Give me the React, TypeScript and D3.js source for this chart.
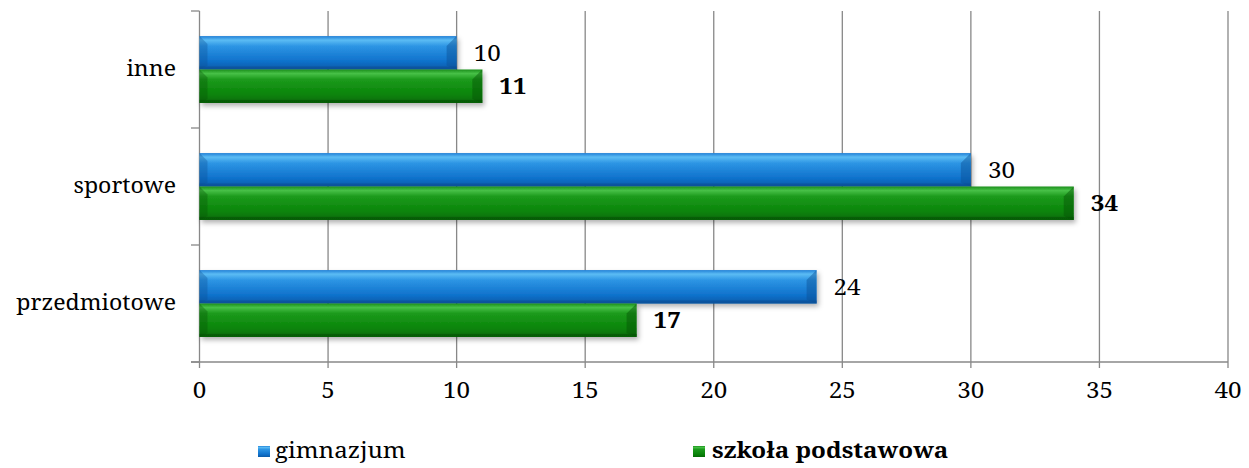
import React from "react";
import * as d3 from "d3";

const categories = ["inne", "sportowe", "przedmiotowe"];
const seriesNames = ["gimnazjum", "szkoła podstawowa"];
const gimnazjum = [10, 30, 24];
const szkolaPodstawowa = [11, 34, 17];
const xTicks = [0, 5, 10, 15, 20, 25, 30, 35, 40];

const W = 1249;
const H = 468;
const FONT = "'Noto Serif', serif";
const SX = 1.1;

function T(props: {
  x: number;
  y: number;
  anchor?: string;
  size?: number;
  bold?: boolean;
  sx?: number;
  dy?: string;
  children: React.ReactNode;
}) {
  const { x, y, anchor = "start", size = 22, bold = false, sx = SX, dy, children } = props;
  return (
    <text
      transform={`translate(${x},${y}) scale(${sx},1)`}
      textAnchor={anchor}
      dy={dy}
      fontFamily={FONT}
      fontSize={size}
      fontWeight={bold ? "bold" : "normal"}
      fill="#000"
    >
      {children}
    </text>
  );
}

export default function App() {
  const x = d3.scaleLinear().domain([0, 40]).range([199.5, 1228]);
  const y = d3.scaleBand<string>().domain(categories).range([11, 362]);
  const inner = d3
    .scaleBand<string>()
    .domain(seriesNames)
    .range([0, y.bandwidth()])
    .paddingOuter(0.75)
    .paddingInner(0);

  const series = [
    { name: seriesNames[0], values: gimnazjum, grad: "gBlue", dark: "#0b4f95", bold: false },
    { name: seriesNames[1], values: szkolaPodstawowa, grad: "gGreen", dark: "#055205", bold: true },
  ];

  const bevel = 10;

  return (
    <div style={{ position: "absolute", left: 0, top: 0 }}>
      <svg width={W} height={H} style={{ display: "block" }}>
        <defs>
          <linearGradient id="gBlue" x1="0" y1="0" x2="0" y2="1">
            <stop offset="0" stopColor="#1f7fd6" />
            <stop offset="0.12" stopColor="#5cbcf4" />
            <stop offset="0.3" stopColor="#2d95e4" />
            <stop offset="0.75" stopColor="#0f72cc" />
            <stop offset="1" stopColor="#0b5aa8" />
          </linearGradient>
          <linearGradient id="gGreen" x1="0" y1="0" x2="0" y2="1">
            <stop offset="0" stopColor="#1a8f1a" />
            <stop offset="0.12" stopColor="#46c046" />
            <stop offset="0.3" stopColor="#1c9a1c" />
            <stop offset="0.75" stopColor="#0a840a" />
            <stop offset="1" stopColor="#066a06" />
          </linearGradient>
          <filter id="shadow" x="-5%" y="-20%" width="110%" height="160%">
            <feDropShadow dx="2" dy="3" stdDeviation="2.5" floodColor="#000" floodOpacity="0.3" />
          </filter>
        </defs>

        {/* gridlines */}
        {xTicks.slice(1).map((t) => (
          <line key={"g" + t} x1={x(t)} x2={x(t)} y1={11} y2={368} stroke="#888" strokeWidth={1.3} />
        ))}
        {/* y axis */}
        <line x1={x(0)} x2={x(0)} y1={11} y2={368} stroke="#888" strokeWidth={1.3} />
        {[11, ...categories.map((c) => (y(c) as number) + y.bandwidth())].map((v, i) => (
          <line key={"yt" + i} x1={191} x2={x(0)} y1={v} y2={v} stroke="#888" strokeWidth={1.3} />
        ))}
        {/* x axis */}
        <line x1={191} x2={x(40)} y1={362} y2={362} stroke="#888" strokeWidth={1.3} />

        {/* bars */}
        {series.map((s) =>
          categories.map((c, i) => {
            const y0 = (y(c) as number) + (inner(s.name) as number);
            const h = inner.bandwidth();
            const x0 = x(0);
            const x1 = x(s.values[i]);
            return (
              <g key={s.name + c}>
                <rect x={x0} y={y0} width={x1 - x0} height={h} fill={`url(#${s.grad})`} filter="url(#shadow)" />
                <polygon
                  points={`${x1 - bevel},${y0 + bevel} ${x1},${y0} ${x1},${y0 + h} ${x1 - bevel},${y0 + h - 4}`}
                  fill={s.dark}
                  opacity={0.45}
                />
                <polygon
                  points={`${x0},${y0} ${x0 + 8},${y0 + 8} ${x0 + 8},${y0 + h - 4} ${x0},${y0 + h}`}
                  fill={s.dark}
                  opacity={0.35}
                />
                <rect x={x0} y={y0 + h - 3} width={x1 - x0} height={3} fill={s.dark} opacity={0.6} />
                <T x={x1 + 17} y={y0 + h / 2} dy="0.36em" bold={s.bold}>
                  {s.values[i]}
                </T>
              </g>
            );
          })
        )}

        {/* category labels */}
        {categories.map((c) => (
          <T key={c} x={176} y={(y(c) as number) + y.bandwidth() / 2} dy="0.3em" anchor="end" sx={1.05}>
            {c}
          </T>
        ))}

        {/* x tick labels */}
        {xTicks.map((t) => (
          <T key={"xl" + t} x={x(t)} y={398} anchor="middle">
            {t}
          </T>
        ))}

        {/* legend */}
        <rect x={258} y={446} width={12} height={11} fill="url(#gBlue)" />
        <T x={275} y={458}>
          {seriesNames[0]}
        </T>
        <rect x={693} y={446} width={12} height={11} fill="url(#gGreen)" />
        <T x={712} y={458} bold>
          {seriesNames[1]}
        </T>
      </svg>
    </div>
  );
}
